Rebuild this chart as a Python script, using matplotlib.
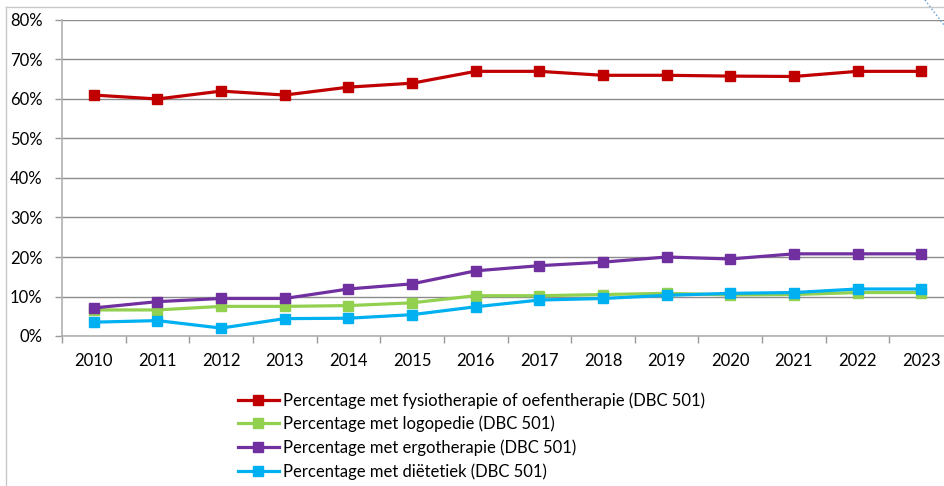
import matplotlib.pyplot as plt
from matplotlib.lines import Line2D
from matplotlib.ticker import FixedLocator, PercentFormatter

years = [str(y) for y in range(2010, 2024)]
fysio = [61, 60, 62, 61, 63, 64, 67, 67, 66, 66, 65.8, 65.7, 67, 67]
logo = [6.6, 6.6, 7.5, 7.5, 7.7, 8.4, 10.2, 10.2, 10.5, 10.8, 10.4, 10.5, 11.0, 11.0]
ergo = [7.1, 8.7, 9.5, 9.5, 11.9, 13.2, 16.5, 17.8, 18.7, 20.0, 19.5, 20.8, 20.8, 20.8]
dieet = [3.5, 3.9, 2.0, 4.4, 4.5, 5.4, 7.4, 9.1, 9.5, 10.3, 10.8, 11.0, 11.9, 11.9]

labels = ['Percentage met fysiotherapie of oefentherapie (DBC 501)',
          'Percentage met logopedie (DBC 501)',
          'Percentage met ergotherapie (DBC 501)',
          'Percentage met diëtetiek (DBC 501)']
colors = ['#C00000', '#92D050', '#7030A0', '#00B0F0']

plt.rcParams['font.family'] = ['Lato', 'DejaVu Sans']

fig = plt.figure(figsize=(9.44, 4.86), dpi=100)
ax = fig.add_axes([62 / 944, 1 - 336 / 486, 891 / 944, 316 / 486])

x = list(range(len(years)))
for series, label, color in zip([fysio, logo, ergo, dieet], labels, colors):
    ax.plot(x, series, color=color, lw=2.3, marker='s', markersize=7.5, label=label)

ax.set_xlim(-0.5, len(years) - 0.5)
ax.set_ylim(0, 80)
ax.set_yticks(range(0, 81, 10))
ax.yaxis.set_major_formatter(PercentFormatter(decimals=0))
ax.set_xticks(x)
ax.set_xticklabels(years)
ax.xaxis.set_minor_locator(FixedLocator([i - 0.5 for i in range(len(years) + 1)]))
ax.tick_params(axis='x', which='major', length=0, pad=12, labelsize=12, colors='black')
ax.tick_params(axis='x', which='minor', length=5, color='#999999', width=1)
ax.tick_params(axis='y', length=5, color='#999999', width=1, labelsize=12, pad=9)

ax.grid(axis='y', color='#8c8c8c', lw=1)
ax.set_axisbelow(True)
for side in ['top', 'right']:
    ax.spines[side].set_visible(False)
for side in ['left', 'bottom']:
    ax.spines[side].set_color('#b0b0b0')
    ax.spines[side].set_linewidth(1.2)

fig.legend(loc='upper left', bbox_to_anchor=(238 / 944, 1 - 392 / 486), frameon=False,
           fontsize=12, handlelength=2.45, handletextpad=0.25, labelspacing=0.43,
           borderaxespad=0, borderpad=0)

# outer chart frame and selection line
fig.add_artist(Line2D([6 / 944, 6 / 944], [0, 1 - 7 / 486], color='#c8c8c8', lw=1))
fig.add_artist(Line2D([6 / 944, 1], [1 - 7 / 486, 1 - 7 / 486], color='#c8c8c8', lw=1))
fig.add_artist(Line2D([925 / 944, 1], [1, 1 - 25 / 486], color='#5b9bd5', lw=1, ls=':'))

fig.savefig('out.png', dpi=100)
